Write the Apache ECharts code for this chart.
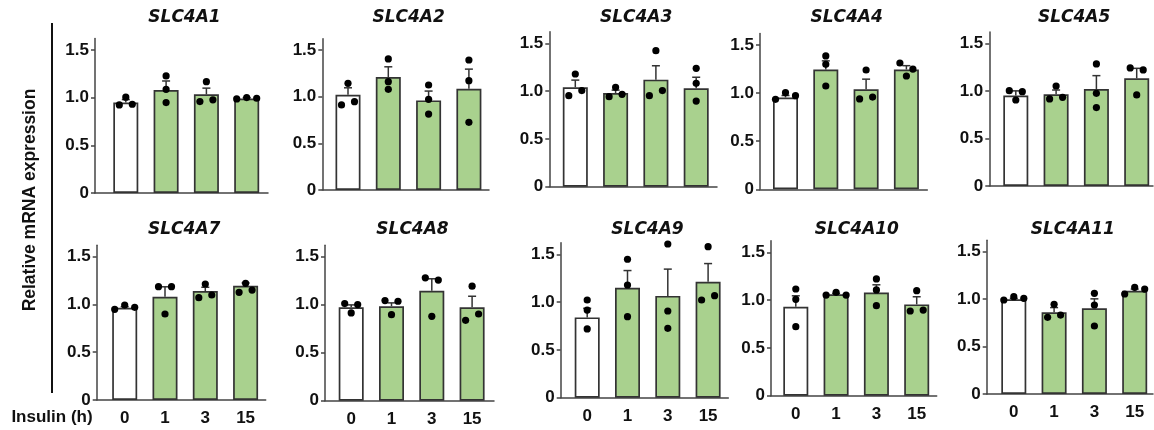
<!DOCTYPE html>
<html lang="en">
<head>
<meta charset="UTF-8" />
<title>SLC4 genes after insulin</title>
<script src="https://cdn.jsdelivr.net/npm/echarts@6/dist/echarts.min.js"></script>
<style>
  html, body { margin: 0; padding: 0; background: #fff; }
  #main { width: 1154px; height: 430px; }
</style>
</head>
<body>
<div id="main"></div>
<script>
// time points after insulin (h)
var hours = ['0', '1', '3', '15'];
var genes = ['SLC4A1', 'SLC4A2', 'SLC4A3', 'SLC4A4', 'SLC4A5',
             'SLC4A7', 'SLC4A8', 'SLC4A9', 'SLC4A10', 'SLC4A11'];
var yTicks = [0, 0.5, 1, 1.5];

// bar height (mean) per gene, one per time point
var means = [
  [0.95, 1.08, 1.035, 0.99],
  [1.02, 1.21, 0.96, 1.085],
  [1.04, 0.98, 1.12, 1.03],
  [0.955, 1.245, 1.04, 1.245],
  [0.95, 0.964, 1.02, 1.132],
  [0.965, 1.08, 1.14, 1.195],
  [0.973, 0.984, 1.145, 0.973],
  [0.84, 1.15, 1.065, 1.213],
  [0.93, 1.06, 1.08, 0.955],
  [0.998, 0.861, 0.903, 1.089]
];
// SEM (drawn upward only)
var sems = [
  [0.03, 0.095, 0.065, 0.01],
  [0.075, 0.11, 0.1, 0.21],
  [0.075, 0.03, 0.145, 0.115],
  [0.02, 0.09, 0.105, 0.04],
  [0.05, 0.045, 0.14, 0.105],
  [0.012, 0.105, 0.04, 0.03],
  [0.025, 0.035, 0.125, 0.115],
  [0.095, 0.18, 0.28, 0.19],
  [0.115, 0.01, 0.08, 0.08],
  [0.01, 0.05, 0.1, 0.017]
];
// replicates, 3 per time point
var points = [
  [[1.005, 0.924, 0.931], [1.228, 1.088, 0.949], [1.168, 0.959, 0.977], [0.987, 1.001, 0.994]],
  [[1.143, 0.911, 0.946], [1.404, 1.161, 1.079], [1.125, 0.971, 0.814], [1.393, 1.171, 0.725]],
  [[1.179, 0.952, 1.005], [1.039, 0.942, 0.966], [1.423, 0.952, 1.005], [1.238, 1.081, 0.896]],
  [[0.935, 1.004, 0.973], [1.386, 1.299, 1.074], [1.24, 0.939, 0.959], [1.313, 1.25, 1.178]],
  [[1.002, 0.992, 0.904], [1.051, 0.915, 0.932], [1.283, 0.974, 0.824], [1.241, 1.22, 0.957]],
  [[0.949, 0.994, 0.97], [1.186, 1.186, 0.9], [1.214, 1.071, 1.099], [1.221, 1.127, 1.151]],
  [[1.012, 1.001, 0.914], [1.043, 1.036, 0.896], [1.28, 1.256, 0.879], [1.193, 0.837, 0.903]],
  [[1.022, 0.917, 0.719], [1.448, 1.179, 0.848], [1.608, 0.907, 0.726], [1.58, 1.022, 1.067]],
  [[1.116, 1.008, 0.722], [1.053, 1.081, 1.053], [1.221, 1.106, 0.942], [1.099, 0.886, 0.896]],
  [[0.991, 1.026, 1.008], [0.945, 0.808, 0.832], [1.061, 0.938, 0.717], [1.054, 1.124, 1.106]]
];

// panel layout in px: y axis x, x axis end, y of 0, y of 1.5, first bar centre from axis
var axisX   = [95, 322.3, 549.3, 760, 989.3, 96.7, 325, 560.7, 771, 986.7];
var axisEnd = [268, 489, 717, 927.3, 1153, 265.7, 494, 728.3, 936.7, 1153];
var zeroY   = [193, 190, 186.7, 189.3, 186, 400, 400.7, 397.7, 395.7, 394];
var y15     = [50, 50, 43.3, 45, 43.3, 256.7, 256.7, 254.3, 252.3, 251.7];
var firstBar = [30.8, 25.7, 26, 25.5, 26.5, 28, 26.2, 26.5, 24.8, 27.1];
var step = 40.3;
var yMax = 1.62;

var green = '#a9d18e';
var edge = '#333';
var numFont = '"Liberation Sans", Arial, sans-serif';

var chart = echarts.init(document.getElementById('main'));

var grids = [], xAxes = [], yAxes = [], series = [], graphics = [];

genes.forEach(function (g, i) {
  var s = (zeroY[i] - y15[i]) / 1.5;
  var h = yMax * s;
  var w = axisEnd[i] - axisX[i];
  var xs = hours.map(function (t, j) { return firstBar[i] + j * step; });
  var bottomRow = i >= 5;

  grids.push({ left: axisX[i], top: zeroY[i] - h, width: w, height: h });

  xAxes.push({
    type: 'value', gridIndex: i, min: 0, max: w,
    axisLine: { show: true, onZero: false, lineStyle: { color: '#444', width: 1.5 } },
    axisTick: { show: false },
    splitLine: { show: false },
    axisLabel: {
      show: bottomRow, customValues: xs, margin: 10,
      color: '#111', fontSize: 17, fontWeight: 'bold', fontFamily: numFont,
      formatter: function (v) { return hours[Math.round((v - firstBar[i]) / step)]; }
    }
  });

  yAxes.push({
    type: 'value', gridIndex: i, min: 0, max: yMax,
    axisLine: { show: true, onZero: false, lineStyle: { color: '#444', width: 1.5 } },
    axisTick: { show: true, length: 4, customValues: yTicks, lineStyle: { color: '#444', width: 1.5 } },
    splitLine: { show: false },
    axisLabel: {
      customValues: yTicks, margin: 6,
      color: '#111', fontSize: 17, fontWeight: 'bold', fontFamily: numFont,
      formatter: function (v) { return v === 0 ? '0' : v.toFixed(1); }
    }
  });

  series.push({
    type: 'bar', xAxisIndex: i, yAxisIndex: i, barWidth: 25, z: 2,
    itemStyle: { borderColor: edge, borderWidth: 1.7 },
    data: hours.map(function (t, j) {
      return { value: [xs[j], means[i][j]], itemStyle: { color: j === 0 ? '#fff' : green } };
    })
  });

  // error bars, upper half only
  series.push({
    type: 'custom', xAxisIndex: i, yAxisIndex: i, z: 3,
    encode: { x: 0, y: 1 },
    data: hours.map(function (t, j) { return [xs[j], means[i][j], sems[i][j]]; }),
    renderItem: function (params, api) {
      var x = api.value(0), m = api.value(1), e = api.value(2);
      var p0 = api.coord([x, m]);
      var p1 = api.coord([x, m + e]);
      var st = { stroke: '#333', lineWidth: 1.5 };
      return {
        type: 'group',
        children: [
          { type: 'line', shape: { x1: p0[0], y1: p0[1], x2: p1[0], y2: p1[1] }, style: st },
          { type: 'line', shape: { x1: p1[0] - 4, y1: p1[1], x2: p1[0] + 4, y2: p1[1] }, style: st }
        ]
      };
    }
  });

  // replicate dots, spread sideways where they overlap
  series.push({
    type: 'custom', xAxisIndex: i, yAxisIndex: i, z: 4,
    encode: { x: 0, y: [1, 2, 3] },
    data: hours.map(function (t, j) { return [xs[j]].concat(points[i][j]); }),
    renderItem: function (params, api) {
      var x = api.value(0);
      var pts = [1, 2, 3].map(function (k, n) {
        var p = api.coord([x, api.value(k)]);
        return { n: n, x: p[0], y: p[1] };
      });
      var sorted = pts.slice().sort(function (a, b) { return a.y - b.y; });
      var groups = [[sorted[0]]];
      for (var k = 1; k < sorted.length; k++) {
        var last = groups[groups.length - 1];
        if (sorted[k].y - last[last.length - 1].y < 6.5) last.push(sorted[k]);
        else groups.push([sorted[k]]);
      }
      var children = [];
      groups.forEach(function (grp) {
        grp.sort(function (a, b) { return a.n - b.n; });
        var offs = grp.length === 1 ? [0] : grp.length === 2 ? [-6.5, 6.5] : [-10, 0, 10];
        grp.forEach(function (p, q) {
          children.push({ type: 'circle', shape: { cx: p.x + offs[q], cy: p.y, r: 3.6 }, style: { fill: '#000' } });
        });
      });
      return { type: 'group', children: children };
    }
  });

  graphics.push({
    type: 'text', x: (axisX[i] + axisEnd[i]) / 2 + 3, y: bottomRow ? 229.5 : 18,
    style: {
      text: g, fill: '#111', textAlign: 'center', textVerticalAlign: 'middle',
      font: 'italic bold 17px "DejaVu Sans", sans-serif'
    }
  });
});

graphics.push({
  type: 'line', shape: { x1: 52, y1: 23, x2: 52, y2: 393 },
  style: { stroke: '#111', lineWidth: 2 }
});
graphics.push({
  type: 'text', x: 30, y: 200, rotation: Math.PI / 2,
  style: {
    text: 'Relative mRNA expression', fill: '#111', textAlign: 'center', textVerticalAlign: 'middle',
    font: 'bold 17.5px "Liberation Sans", Arial, sans-serif'
  }
});
graphics.push({
  type: 'text', x: 52, y: 417,
  style: {
    text: 'Insulin (h)', fill: '#111', textAlign: 'center', textVerticalAlign: 'middle',
    font: 'bold 17px "Liberation Sans", Arial, sans-serif'
  }
});

chart.setOption({
  animation: false,
  grid: grids,
  xAxis: xAxes,
  yAxis: yAxes,
  series: series,
  graphic: graphics
});
</script>
</body>
</html>
